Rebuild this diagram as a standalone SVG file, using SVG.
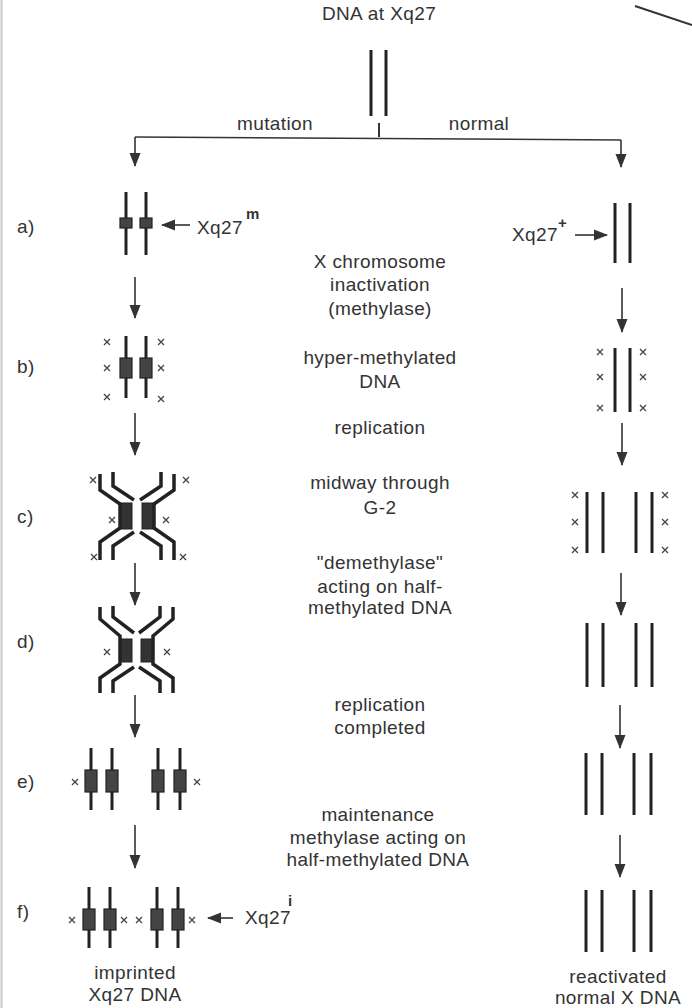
<svg xmlns="http://www.w3.org/2000/svg" width="692" height="1008" viewBox="0 0 692 1008">
  <style>
    text { font-family: "Liberation Sans", Arial, sans-serif; font-size: 19px; fill: #333; letter-spacing: 0.4px; }
    .mid { text-anchor: middle; }
    .sup { font-size: 15px; font-weight: bold; letter-spacing: 0; }
    .strand { stroke: #222; stroke-width: 3; fill: none; stroke-linecap: butt; }
    .arm { stroke: #222; stroke-width: 3.5; fill: none; stroke-linejoin: miter; }
    .blk { fill: #333; stroke: #222; stroke-width: 1; }
    .box { fill: #444; stroke: #222; stroke-width: 1.2; }
    .conn { stroke: #333; stroke-width: 1.6; fill: none; }
    .me { stroke: #444; stroke-width: 1.3; fill: none; }
  </style>
  <defs>
    <!-- filled arrowhead, drawn along +x so orient="auto" follows the line -->
    <marker id="head" markerUnits="userSpaceOnUse" markerWidth="14" markerHeight="12" viewBox="0 0 14 12" refX="13" refY="6" orient="auto">
      <path d="M0,0.5 L14,6 L0,11.5 Z" fill="#333"/>
    </marker>
    <!-- methyl group mark -->
    <symbol id="me" overflow="visible">
      <path class="me" d="M-3,-3 L3,3 M-3,3 L3,-3"/>
    </symbol>
    <!-- half of a replicating chromosome pair, stage c -->
    <g id="halfC">
      <rect class="blk" x="120" y="503" width="12" height="26"/>
      <path class="arm" d="M100,474 V490 L120,504 V528 L100,542 V560"/>
      <path class="arm" d="M113,472 V486 L134,500 M134,532 L113,546 V560"/>
    </g>
    <!-- half of a replicating chromosome pair, stage d -->
    <g id="halfD">
      <rect class="blk" x="120" y="639" width="12" height="23"/>
      <path class="arm" d="M100,607 V619 L120,636 V664 L100,678 V693"/>
      <path class="arm" d="M113,606 V617 L134,633 M134,667 L113,681 V693"/>
    </g>
  </defs>

  <rect width="692" height="1008" fill="#ffffff"/>
  <line x1="1.5" y1="0" x2="1.5" y2="1008" stroke="#c8c8c8" stroke-width="2"/>
  <line x1="635" y1="6" x2="692" y2="25" stroke="#333" stroke-width="2"/>

  <!-- origin -->
  <g id="origin">
    <text class="mid" x="379" y="20">DNA at Xq27</text>
    <line class="strand" x1="371" y1="50" x2="371" y2="116"/>
    <line class="strand" x1="386" y1="50" x2="386" y2="116"/>
    <line x1="379" y1="123" x2="379" y2="137" stroke="#333" stroke-width="2"/>
    <text class="mid" x="275" y="130">mutation</text>
    <text class="mid" x="479" y="130">normal</text>
  </g>

  <!-- stage labels -->
  <g id="labels">
    <text x="17" y="233">a)</text>
    <text x="17" y="373">b)</text>
    <text x="17" y="523">c)</text>
    <text x="17" y="648">d)</text>
    <text x="17" y="788">e)</text>
    <text x="17" y="918">f)</text>
  </g>

  <!-- middle annotations -->
  <g id="notes">
    <text class="mid" x="380" y="268">X chromosome</text>
    <text class="mid" x="380" y="291">inactivation</text>
    <text class="mid" x="380" y="315">(methylase)</text>
    <text class="mid" x="380" y="364">hyper-methylated</text>
    <text class="mid" x="380" y="388">DNA</text>
    <text class="mid" x="380" y="434">replication</text>
    <text class="mid" x="380" y="489">midway through</text>
    <text class="mid" x="380" y="514">G-2</text>
    <text class="mid" x="380" y="569">"demethylase"</text>
    <text class="mid" x="380" y="593">acting on half-</text>
    <text class="mid" x="380" y="614">methylated DNA</text>
    <text class="mid" x="380" y="711">replication</text>
    <text class="mid" x="380" y="734">completed</text>
    <text class="mid" x="378" y="821">maintenance</text>
    <text class="mid" x="378" y="844">methylase acting on</text>
    <text class="mid" x="378" y="866">half-methylated DNA</text>
  </g>

  <!-- mutant branch -->
  <g id="mut-a">
    <line class="strand" x1="126" y1="192" x2="126" y2="255"/>
    <line class="strand" x1="146" y1="192" x2="146" y2="255"/>
    <rect class="box" x="120" y="218" width="12" height="10"/>
    <rect class="box" x="140" y="218" width="12" height="10"/>
    <text x="197" y="234">Xq27</text>
    <text class="sup" x="246" y="219">m</text>
  </g>

  <g id="mut-b">
    <line class="strand" x1="126" y1="336" x2="126" y2="398"/>
    <line class="strand" x1="146" y1="336" x2="146" y2="398"/>
    <rect class="box" x="120" y="358" width="12" height="20"/>
    <rect class="box" x="140" y="358" width="12" height="20"/>
    <use href="#me" x="107" y="342"/><use href="#me" x="107" y="368"/><use href="#me" x="107" y="397"/>
    <use href="#me" x="161" y="342"/><use href="#me" x="161" y="368"/><use href="#me" x="161" y="399"/>
  </g>

  <g id="mut-c">
    <use href="#halfC"/>
    <use href="#halfC" transform="translate(274,0) scale(-1,1)"/>
    <use href="#me" x="93" y="480"/><use href="#me" x="186" y="480"/>
    <use href="#me" x="112" y="520"/><use href="#me" x="166" y="520"/>
    <use href="#me" x="94" y="557"/><use href="#me" x="183" y="557"/>
  </g>

  <g id="mut-d">
    <use href="#halfD"/>
    <use href="#halfD" transform="translate(273,0) scale(-1,1)"/>
    <use href="#me" x="107" y="652"/><use href="#me" x="167" y="652"/>
  </g>

  <g id="mut-e">
    <line class="strand" x1="91" y1="748" x2="91" y2="810"/>
    <line class="strand" x1="112" y1="748" x2="112" y2="810"/>
    <line class="strand" x1="158" y1="748" x2="158" y2="810"/>
    <line class="strand" x1="180" y1="748" x2="180" y2="810"/>
    <rect class="box" x="85" y="770" width="12" height="22"/>
    <rect class="box" x="106" y="770" width="12" height="22"/>
    <rect class="box" x="152" y="770" width="12" height="22"/>
    <rect class="box" x="174" y="770" width="12" height="22"/>
    <use href="#me" x="75" y="782"/><use href="#me" x="197" y="782"/>
  </g>

  <g id="mut-f">
    <line class="strand" x1="89" y1="887" x2="89" y2="948"/>
    <line class="strand" x1="110" y1="887" x2="110" y2="948"/>
    <line class="strand" x1="157" y1="887" x2="157" y2="948"/>
    <line class="strand" x1="178" y1="887" x2="178" y2="948"/>
    <rect class="box" x="83" y="909" width="12" height="21"/>
    <rect class="box" x="104" y="909" width="12" height="21"/>
    <rect class="box" x="151" y="909" width="12" height="21"/>
    <rect class="box" x="172" y="909" width="12" height="21"/>
    <use href="#me" x="72" y="920"/><use href="#me" x="124" y="920"/>
    <use href="#me" x="139" y="920"/><use href="#me" x="192" y="920"/>
    <text x="245" y="924">Xq27</text>
    <text class="sup" x="288" y="906">i</text>
    <text class="mid" x="135" y="979">imprinted</text>
    <text class="mid" x="135" y="1001">Xq27 DNA</text>
  </g>

  <!-- normal branch -->
  <g id="norm-a">
    <line class="strand" x1="615" y1="203" x2="615" y2="263"/>
    <line class="strand" x1="630" y1="203" x2="630" y2="263"/>
    <text x="512" y="241">Xq27</text>
    <text class="sup" x="558" y="228">+</text>
  </g>

  <g id="norm-b">
    <line class="strand" x1="615" y1="348" x2="615" y2="412"/>
    <line class="strand" x1="630" y1="348" x2="630" y2="412"/>
    <use href="#me" x="600" y="352"/><use href="#me" x="600" y="377"/><use href="#me" x="600" y="408"/>
    <use href="#me" x="643" y="352"/><use href="#me" x="643" y="377"/><use href="#me" x="643" y="408"/>
  </g>

  <g id="norm-c">
    <line class="strand" x1="587" y1="492" x2="587" y2="553"/>
    <line class="strand" x1="603" y1="492" x2="603" y2="553"/>
    <line class="strand" x1="636" y1="492" x2="636" y2="553"/>
    <line class="strand" x1="652" y1="492" x2="652" y2="553"/>
    <use href="#me" x="575" y="495"/><use href="#me" x="575" y="522"/><use href="#me" x="575" y="550"/>
    <use href="#me" x="665" y="495"/><use href="#me" x="665" y="522"/><use href="#me" x="665" y="550"/>
  </g>

  <g id="norm-d">
    <line class="strand" x1="587" y1="623" x2="587" y2="687"/>
    <line class="strand" x1="603" y1="623" x2="603" y2="687"/>
    <line class="strand" x1="636" y1="623" x2="636" y2="687"/>
    <line class="strand" x1="652" y1="623" x2="652" y2="687"/>
  </g>

  <g id="norm-e">
    <line class="strand" x1="586" y1="753" x2="586" y2="815"/>
    <line class="strand" x1="602" y1="753" x2="602" y2="815"/>
    <line class="strand" x1="634" y1="753" x2="634" y2="815"/>
    <line class="strand" x1="651" y1="753" x2="651" y2="815"/>
  </g>

  <g id="norm-f">
    <line class="strand" x1="586" y1="890" x2="586" y2="952"/>
    <line class="strand" x1="602" y1="890" x2="602" y2="952"/>
    <line class="strand" x1="634" y1="890" x2="634" y2="952"/>
    <line class="strand" x1="651" y1="890" x2="651" y2="952"/>
    <text class="mid" x="618" y="983">reactivated</text>
    <text class="mid" x="618" y="1004">normal X DNA</text>
  </g>

  <!-- connectors -->
  <g id="connectors">
    <path class="conn" d="M135,137 L621,140" stroke-width="2"/>
    <line class="conn" x1="135" y1="137" x2="135" y2="166" marker-end="url(#head)"/>
    <line class="conn" x1="621" y1="140" x2="621" y2="167" marker-end="url(#head)"/>

    <line class="conn" x1="135" y1="277" x2="135" y2="318" marker-end="url(#head)"/>
    <line class="conn" x1="135" y1="413" x2="135" y2="455" marker-end="url(#head)"/>
    <line class="conn" x1="135" y1="563" x2="135" y2="605" marker-end="url(#head)"/>
    <line class="conn" x1="135" y1="695" x2="135" y2="737" marker-end="url(#head)"/>
    <line class="conn" x1="135" y1="825" x2="135" y2="868" marker-end="url(#head)"/>

    <line class="conn" x1="622" y1="288" x2="622" y2="332" marker-end="url(#head)"/>
    <line class="conn" x1="622" y1="423" x2="622" y2="465" marker-end="url(#head)"/>
    <line class="conn" x1="621" y1="573" x2="621" y2="615" marker-end="url(#head)"/>
    <line class="conn" x1="620" y1="705" x2="620" y2="748" marker-end="url(#head)"/>
    <line class="conn" x1="620" y1="835" x2="620" y2="877" marker-end="url(#head)"/>

    <line class="conn" x1="190" y1="225" x2="162" y2="225" marker-end="url(#head)"/>
    <line class="conn" x1="575" y1="235" x2="607" y2="235" marker-end="url(#head)"/>
    <line class="conn" x1="233" y1="918" x2="208" y2="918" marker-end="url(#head)"/>
  </g>
</svg>
